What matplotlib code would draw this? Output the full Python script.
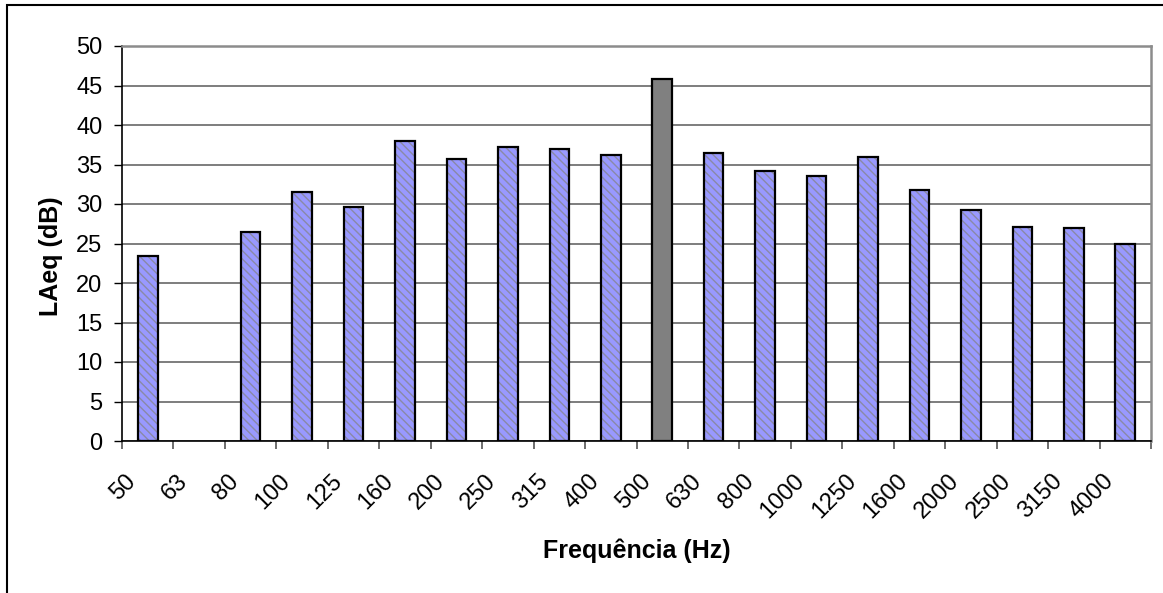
import numpy as np
import matplotlib
matplotlib.use("Agg")
import matplotlib.pyplot as plt
from matplotlib.patches import Rectangle
from matplotlib.transforms import ScaledTranslation

plt.rcParams['font.family'] = ['Liberation Sans', 'DejaVu Sans']
plt.rcParams['hatch.linewidth'] = 1.0

# One-third octave band levels
bands = ["50", "63", "80", "100", "125", "160", "200", "250", "315", "400",
         "500", "630", "800", "1000", "1250", "1600", "2000", "2500", "3150", "4000"]
laeq = [23.4, np.nan, 26.4, 31.5, 29.6, 38.0, 35.7, 37.2, 36.9, 36.2,
        45.8, 36.4, 34.2, 33.5, 36.0, 31.8, 29.3, 27.1, 26.9, 24.9]
highlight_band = "500"

W, H = 1163, 593
fig = plt.figure(figsize=(W / 100, H / 100), dpi=100)
ax = fig.add_axes([122 / W, 1 - 441 / H, (1151 - 122) / W, (441 - 46) / H])

x = np.arange(len(bands))
vals = np.array(laeq, dtype=float)
ok = ~np.isnan(vals)
is_hl = np.array([b == highlight_band for b in bands])

bw = 0.38
normal = ok & ~is_hl
# blue bars with diagonal pattern
ax.bar(x[normal], vals[normal], width=bw, color="#9999FF", edgecolor="none",
       linewidth=0, zorder=3)
ax.bar(x[normal], vals[normal], width=bw, facecolor="none", edgecolor="#8a8aa6",
       hatch="\\\\\\\\", linewidth=0, zorder=3.1)
ax.bar(x[normal], vals[normal], width=bw, facecolor="none", edgecolor="black",
       linewidth=1.6, zorder=3.2)
# highlighted band
ax.bar(x[is_hl], vals[is_hl], width=bw, color="#808080", edgecolor="black",
       linewidth=1.6, zorder=3.2)

ax.set_xlim(-0.5, len(bands) - 0.5)
ax.set_ylim(0, 50)
ax.set_yticks(np.arange(0, 51, 5))
ax.yaxis.grid(True, color="#5a5a5a", linewidth=1.1, zorder=1)
ax.set_axisbelow(True)

ax.tick_params(axis="y", direction="out", length=6, width=1, pad=8,
               labelsize=17, colors="black")
ax.set_xticks(x)
ax.set_xticklabels(bands, rotation=45, ha="right", va="center",
                   rotation_mode="anchor", fontsize=17)
ax.tick_params(axis="x", which="major", length=0, pad=0)
ax.set_xticks(np.arange(-0.5, len(bands), 1), minor=True)
ax.tick_params(axis="x", which="minor", direction="out", length=6, width=1.2,
               color="#555555")
shift = ScaledTranslation(-0.15, -0.37, fig.dpi_scale_trans)
for lab in ax.get_xticklabels():
    lab.set_transform(lab.get_transform() + shift)

for side in ("left", "bottom"):
    ax.spines[side].set_color("black")
    ax.spines[side].set_linewidth(1.2)
for side in ("top", "right"):
    ax.spines[side].set_color("#8c8c8c")
    ax.spines[side].set_linewidth(1.8)

ax.set_xlabel("Frequência (Hz)", fontsize=18, fontweight="bold")
ax.xaxis.set_label_coords(0.5, -(551 - 441) / (441 - 46), transform=ax.transAxes)
ax.xaxis.label.set_va("center")
ax.set_ylabel("LAeq (dB)", fontsize=18, fontweight="bold")
ax.yaxis.set_label_coords((51 - 122) / (1151 - 122), (441 - 256) / (441 - 46))
ax.yaxis.label.set_va("center")

# outer chart frame
fig.patches.append(Rectangle((7 / W, -0.2), 1.5, (H - 5) / H + 0.2,
                             transform=fig.transFigure, fill=False,
                             edgecolor="black", linewidth=1.5))

fig.savefig("out.png", dpi=100)
